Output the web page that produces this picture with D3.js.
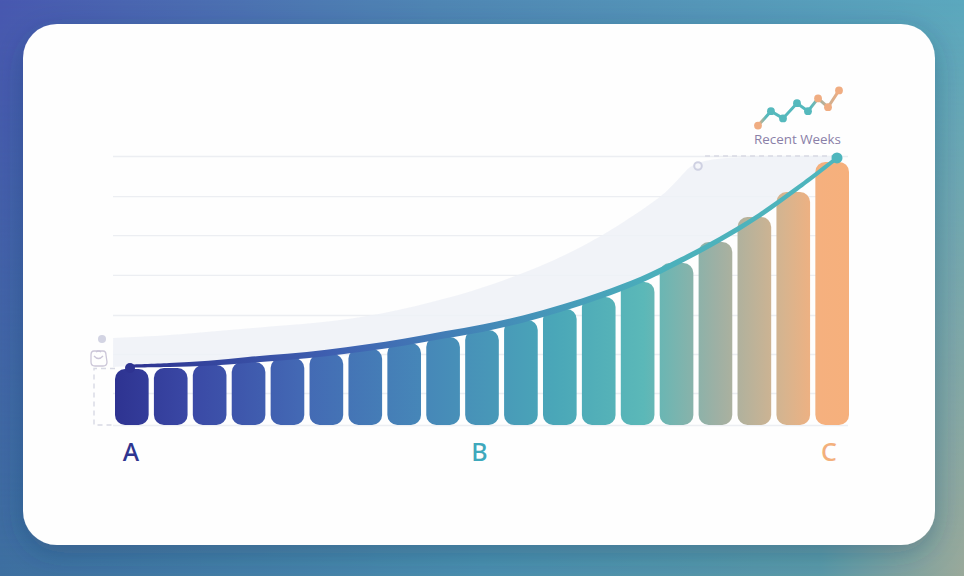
<!DOCTYPE html>
<html lang="en">
<head>
    <meta charset="UTF-8">
    <title>Recent Weeks</title>
    <style>
        html, body { margin: 0; padding: 0; width: 964px; height: 576px; overflow: hidden; }
        svg { display: block; }
    </style>
    <script src="https://d3js.org/d3.v7.min.js"></script>
</head>
<body>
    <svg width="964" height="576"></svg>
    <script>
        // values, y axis runs 0-100
        const weeks = d3.range(19);
        const barValues = [20.8, 21.2, 22.3, 23.4, 24.9, 26.4, 28.3, 30.5, 32.7, 35.3, 39.0, 43.1, 47.6, 53.2, 60.2, 68.0, 77.3, 86.6, 97.8];
        const lineValues = [21.9, 22.3, 23.0, 24.2, 25.3, 26.8, 28.7, 30.9, 33.5, 36.1, 39.4, 43.5, 48.3, 53.9, 61.0, 68.8, 77.7, 88.1, 99.3];
        const gridValues = [0, 11.9, 26.4, 40.9, 55.8, 70.6, 85.1, 100];
        const shadeWeeks = [-0.43, 1.27, 3.05, 4.84, 6.36, 8.15, 9.6, 11.46, 12.98, 13.75, 14.13, 14.64, 18];
        const shadeValues = [32.3, 33.5, 36.1, 37.9, 40.9, 47.2, 53.9, 65.1, 79.2, 87.4, 94.8, 100, 100];
        const labels = ["A", "B", "C"];
        const labelWeeks = [0, 9, 18];
        const sparkWeeks = [0, 1.12, 2.16, 3.37, 4.32, 5.19, 6.05, 7];
        const sparkValues = [3, 21, 12, 31, 21, 37, 26, 47];
        const sparkCaption = "Recent Weeks";

        const svg = d3.select("svg");
        const width = +svg.attr("width");
        const height = +svg.attr("height");
        const defs = svg.append("defs");

        function gradient(id, attrs, stops) {
            const g = defs.append("linearGradient").attr("id", id);
            Object.entries(attrs).forEach(([k, v]) => g.attr(k, v));
            stops.forEach(s => g.append("stop").attr("offset", s[0]).attr("stop-color", s[1]));
        }

        gradient("bg", { x1: 0, y1: 0, x2: 1, y2: 0 }, [[0, "#4858b0"], [0.45, "#4f86b4"], [1, "#5ba8be"]]);
        gradient("bgLow", { x1: 0, y1: 0, x2: 1, y2: 0 }, [[0, "#3d6fa0"], [0.5, "#4a8fae"], [0.85, "#5a9aa8"], [1, "#9aa99a"]]);
        gradient("bars", { gradientUnits: "userSpaceOnUse", x1: 115, y1: 0, x2: 849, y2: 0 }, [
            [0, "#2e3391"], [0.1, "#3a48a5"], [0.25, "#4368b4"], [0.42, "#4687b8"], [0.6, "#4aa7b8"], [0.72, "#5bb8b8"],
            [0.82, "#9eb0a4"], [0.91, "#d6b48f"], [0.96, "#f5b07e"], [1, "#f6b07c"]
        ]);
        gradient("line", { gradientUnits: "userSpaceOnUse", x1: 130, y1: 0, x2: 837, y2: 0 }, [
            [0, "#2e3391"], [0.3, "#3f62b2"], [0.55, "#4490b8"], [0.75, "#4bb0bb"], [1, "#4fb6bd"]
        ]);
        gradient("spark", { gradientUnits: "userSpaceOnUse", x1: 758, y1: 0, x2: 839, y2: 0 }, [
            [0, "#f0ad82"], [0.1, "#55b9bd"], [0.65, "#55b9bd"], [0.8, "#b5b09a"], [1, "#f0ad82"]
        ]);

        const blur = defs.append("filter").attr("id", "shadow")
            .attr("x", "-10%").attr("y", "-10%").attr("width", "120%").attr("height", "125%");
        blur.append("feDropShadow").attr("dx", 0).attr("dy", 8).attr("stdDeviation", 14)
            .attr("flood-color", "#1d3a5c").attr("flood-opacity", 0.3);

        // background, two horizontal bands faded into each other
        const fade = defs.append("linearGradient").attr("id", "fade").attr("x1", 0).attr("y1", 0).attr("x2", 0).attr("y2", 1);
        fade.append("stop").attr("offset", 0).attr("stop-color", "#fff").attr("stop-opacity", 0);
        fade.append("stop").attr("offset", 1).attr("stop-color", "#fff").attr("stop-opacity", 1);
        defs.append("mask").attr("id", "fadeMask").append("rect")
            .attr("width", width).attr("height", height).attr("fill", "url(#fade)");

        svg.append("rect").attr("width", width).attr("height", height).attr("fill", "url(#bg)");
        svg.append("rect").attr("width", width).attr("height", height).attr("fill", "url(#bgLow)").attr("mask", "url(#fadeMask)");

        // card
        svg.append("rect").attr("x", 23).attr("y", 24).attr("width", 912).attr("height", 521).attr("rx", 34)
            .attr("fill", "#fefefe").attr("filter", "url(#shadow)");

        // scales
        const y = d3.scaleLinear().domain([0, 100]).range([425, 156]);
        const xBand = d3.scaleBand().domain(weeks).range([115, 849]).paddingInner(0.135);
        const xLine = d3.scaleLinear().domain([0, 18]).range([130, 837]);

        // gridlines
        const grid = svg.append("g").attr("transform", "translate(113,0)")
            .call(d3.axisLeft(y).tickValues(gridValues).tickSize(-735).tickFormat(""));
        grid.select(".domain").remove();
        grid.selectAll("line").attr("stroke", "#eceef2").attr("stroke-width", 1.4);

        // shaded region above the curve
        const outer = shadeWeeks.map((w, i) => [xLine(w), y(shadeValues[i])]);
        const inner = weeks.map((w, i) => [xLine(w), y(lineValues[i])]).reverse();
        const lowerPath = d3.line().curve(d3.curveCatmullRom)(inner);
        svg.append("path")
            .attr("d", d3.line().curve(d3.curveBasis)(outer) + "L" + lowerPath.slice(1) + "L113,367Z")
            .attr("fill", "#eff1f7").attr("opacity", 0.85);

        // dashed guides
        const guide = svg.append("g").attr("fill", "none").attr("stroke", "#d8d9e4")
            .attr("stroke-width", 1.4).attr("stroke-dasharray", "5 4");
        guide.append("path").attr("d", d3.line()([[115, y(21)], [94, y(21)], [94, y(0)], [115, y(0)]]));
        guide.append("path").attr("d", d3.line()([[xLine(14.64), y(100)], [xLine(18), y(100)]]));

        // bars
        svg.append("g").selectAll("rect").data(barValues).join("rect")
            .attr("x", (d, i) => xBand(i))
            .attr("y", d => y(d))
            .attr("width", xBand.bandwidth())
            .attr("height", d => y(0) - y(d))
            .attr("rx", 10)
            .attr("fill", "url(#bars)");

        // curve, thin on the left and thicker towards the right
        const thick = d3.scaleLinear().domain([0, 3, 9, 18]).range([3, 6, 7.5, 5]);
        const band = d3.area().curve(d3.curveCatmullRom)
            .x((d, i) => xLine(i))
            .y0((d, i) => y(d) + thick(i) / 2)
            .y1((d, i) => y(d) - thick(i) / 2);
        svg.append("path").attr("d", band(lineValues)).attr("fill", "url(#line)");

        // end points
        svg.append("circle").attr("cx", xLine(0)).attr("cy", y(lineValues[0]) + 2).attr("r", 5).attr("fill", "#2e3391");
        svg.append("circle").attr("cx", xLine(18)).attr("cy", y(lineValues[18])).attr("r", 5.5).attr("fill", "#4fb6bd");
        svg.append("circle").attr("cx", 698).attr("cy", 166).attr("r", 3.8).attr("fill", "#f5f6fa")
            .attr("stroke", "#cfd1e2").attr("stroke-width", 2);

        // small marker and bag icon on the left
        svg.append("circle").attr("cx", 102).attr("cy", 339).attr("r", 4).attr("fill", "#d3d4e3");
        const icon = svg.append("g").attr("fill", "none").attr("stroke", "#cbc6d8").attr("stroke-width", 1.3);
        icon.append("path").attr("d", "M94,351 H103 Q106,351 106,355 L107,362 Q107,366 103,366 H95 Q91,366 91,362 L91,355 Q91,351 94,351Z");
        icon.append("path").attr("d", "M94,356 Q98.5,361 103,356 M96,352 Q98.5,350 101,352");

        // category letters
        const labelColor = ["#2f3590", "#3fa8bc", "#f3b07c"];
        svg.append("g").selectAll("text").data(labels).join("text")
            .attr("x", (d, i) => xLine(labelWeeks[i]) + (i === 1 ? -4 : i === 2 ? -8 : 1))
            .attr("y", 461)
            .attr("text-anchor", "middle")
            .attr("font-family", "'Noto Sans', sans-serif")
            .attr("font-weight", 500)
            .attr("font-size", 25)
            .attr("fill", (d, i) => labelColor[i])
            .text(d => d);

        // inset sparkline
        const sx = d3.scaleLinear().domain([0, 7]).range([758, 839]);
        const sy = d3.scaleLinear().domain([0, 50]).range([128, 88]);
        const sparkColor = ["#f0ad82", "#55b9bd", "#55b9bd", "#55b9bd", "#55b9bd", "#f0ad82", "#f0ad82", "#f0ad82"];
        svg.append("path")
            .attr("d", d3.line().x((d, i) => sx(sparkWeeks[i])).y(d => sy(d))(sparkValues))
            .attr("fill", "none").attr("stroke", "url(#spark)").attr("stroke-width", 3);
        svg.append("g").selectAll("circle").data(sparkValues).join("circle")
            .attr("cx", (d, i) => sx(sparkWeeks[i]))
            .attr("cy", d => sy(d))
            .attr("r", 3.9)
            .attr("fill", (d, i) => sparkColor[i]);
        svg.append("text").attr("x", 754).attr("y", 144)
            .attr("font-family", "'Open Sans', sans-serif").attr("font-size", 13.4)
            .attr("fill", "#8a80a8").text(sparkCaption);
    </script>
</body>
</html>
